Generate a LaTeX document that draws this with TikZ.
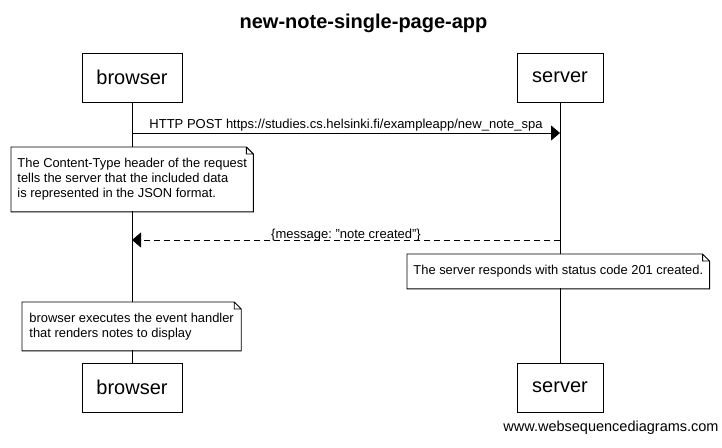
\documentclass[tikz,border=0pt]{standalone}
\usepackage{fontspec}
\setmainfont{Liberation Sans}
\usetikzlibrary{arrows.meta}
\frenchspacing

\begin{document}
\begin{tikzpicture}[x=1pt, y=-1pt, line width=0.9pt,
    actor/.style={draw, fill=white, inner sep=0pt, minimum height=49pt, font=\fontsize{20}{24}\selectfont},
    notebox/.style={fill=white, inner ysep=0pt, inner xsep=6pt, align=left, anchor=north west, font=\fontsize{12.9}{15}\selectfont},
    msg/.style={font=\fontsize{13}{15}\selectfont, inner sep=0pt, anchor=base},
    tip/.style={-{Triangle[length=9pt,width=15pt]}}]
            \useasboundingbox (0,0) rectangle (722,447);
            \node[anchor=base, font=\bfseries\fontsize{20}{24}\selectfont] (title) at (363.5,28) {new-note-single-page-app};
            \node[actor, minimum width=100pt] (browserTop) at (132,77.5) {browser};
            \node[actor, minimum width=86pt] (serverTop) at (560,77.5) {server};
            \node[actor, minimum width=100pt] (browserBot) at (132,387.5) {browser};
            \node[actor, minimum width=86pt] (serverBot) at (560,387.5) {server};
            \draw (browserTop) -- (browserBot);
            \draw (serverTop) -- (serverBot);
            \coordinate (postFrom) at (132,133);
            \coordinate (postTo) at (560,133);
            \draw[tip] (postFrom) -- (postTo) node[msg, midway, yshift=5pt] {HTTP POST https://studies.cs.helsinki.fi/exampleapp/new\_note\_spa};
            \node[notebox, minimum height=64pt] (contentNote) at (11,147) {The Content-Type header of the request\\tells the server that the included data\\is represented in the JSON format.};
            \coordinate (replyFrom) at (560,240);
            \coordinate (replyTo) at (132,240);
            \draw[tip, dash pattern=on 6pt off 4pt] (replyFrom) -- (replyTo) node[msg, midway, yshift=2pt] {\{message: \symbol{34}note created\symbol{34}\}};
            \node[notebox, minimum height=34pt] (statusNote) at (407,254) {The server responds with status code 201 created.};
            \node[notebox, inner xsep=7pt, minimum height=48pt] (handlerNote) at (22,302) {browser executes the event handler\\that renders notes to display};
            \foreach \n in {contentNote, statusNote, handlerNote}
                \draw (\n.south west) -- (\n.north west) -- ([xshift=-7pt]\n.north east) -- ([yshift=-7pt]\n.north east) -- (\n.south east) -- cycle
                      ([xshift=-7pt]\n.north east) |- ([yshift=-7pt]\n.north east);
            \node[anchor=base, font=\fontsize{14.5}{17}\selectfont] (credit) at (611,431) {www.websequencediagrams.com};
        \end{tikzpicture}
\end{document}
